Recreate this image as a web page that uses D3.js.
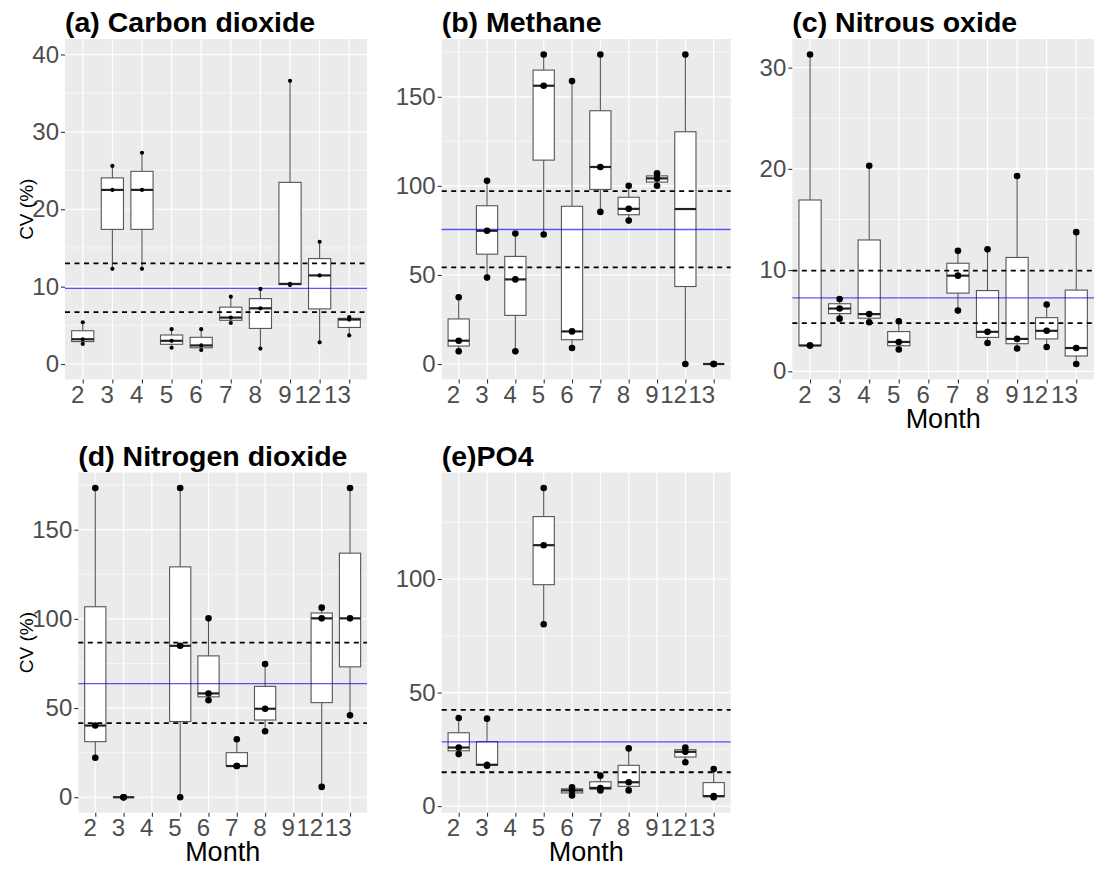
<!DOCTYPE html>
<html>
<head>
<meta charset="utf-8">
<script src="https://cdn.jsdelivr.net/npm/d3@7"></script>
<style>
  html, body { margin: 0; padding: 0; background: #ffffff; }
  svg { display: block; font-family: "Liberation Sans", Arial, "DejaVu Sans", sans-serif; }
</style>
</head>
<body>
<svg id="chart" width="1100" height="875"></svg>
<script>
// ---------------- DATA ----------------
const months = ["2", "3", "4", "5", "6", "7", "8", "9", "12", "13"];

// CV (%) observations per month (one array per month, same order as `months`)
const co2Values = [
  [2.6, 3.2, 5.4], [12.3, 22.5, 25.6], [12.3, 22.5, 27.3], [2.1, 3.0, 4.5], [1.8, 2.4, 4.5],
  [5.3, 6.0, 8.7], [2.0, 7.2, 9.7], [10.2, 10.35, 36.6], [2.8, 11.45, 15.8], [3.7, 5.75, 6.05]
];
const ch4Values = [
  [7.1, 13.1, 37.5], [48.5, 74.8, 102.9], [7.1, 47.5, 73.3], [72.7, 156.2, 173.75], [9.0, 18.3, 158.8],
  [85.4, 110.6, 173.75], [80.5, 87.1, 100.1], [100.1, 104.2, 107.0], [0, 87.0, 173.75], [0, 0, 0]
];
const n2oValues = [
  [2.55, 2.55, 31.3], [5.2, 6.2, 7.15], [4.85, 5.65, 20.3], [2.15, 2.9, 4.95], [],
  [6.0, 9.45, 11.9], [2.8, 3.9, 12.05], [2.25, 3.2, 19.3], [2.4, 4.0, 6.6], [0.72, 2.3, 13.75]
];
const no2Values = [
  [22.1, 40.2, 173.4], [0, 0, 0], [], [0, 84.9, 173.4], [54.4, 58.2, 100.3],
  [17.5, 17.5, 32.5], [37.0, 49.6, 74.7], [], [5.8, 100.3, 106.3], [45.9, 100.3, 173.4]
];
const po4Values = [
  [22.9, 25.8, 38.8], [17.8, 18.2, 38.5], [], [80.1, 114.9, 140.1], [4.7, 6.9, 8.3],
  [6.9, 8.0, 13.4], [6.9, 10.5, 25.4], [], [19.3, 23.9, 25.8], [3.9, 4.4, 16.3]
];

// reference lines: [lower dashed, mean (blue), upper dashed]
const co2Lines = [6.7, 9.77, 13.0];
const ch4Lines = [54.3, 75.5, 97.0];
const n2oLines = [4.76, 7.26, 9.95];
const no2Lines = [41.6, 63.7, 86.7];
const po4Lines = [14.9, 28.3, 42.4];

// y-axis tick labels
const co2Ticks = [0, 10, 20, 30, 40];
const ch4Ticks = [0, 50, 100, 150];
const n2oTicks = [0, 10, 20, 30];
const no2Ticks = [0, 50, 100, 150];
const po4Ticks = [0, 50, 100];

const panelTitles = ["(a) Carbon dioxide", "(b) Methane", "(c) Nitrous oxide", "(d) Nitrogen dioxide", "(e)PO4"];
const yAxisTitle = "CV (%)";
const xAxisTitle = "Month";

// observations used for the box but not drawn as a dot
const hiddenDots = [{ panel: 1, month: "12", value: 87.0 }];

// ---------------- LAYOUT ----------------
const panels = [
  { title: panelTitles[0], values: co2Values, lines: co2Lines, ticks: co2Ticks, limits: [0, 40],
    box: { x0: 65, x1: 367, y0: 39, y1: 379.5 }, r: 2.1, yTitle: true, xTitle: false },
  { title: panelTitles[1], values: ch4Values, lines: ch4Lines, ticks: ch4Ticks, limits: null,
    box: { x0: 441.7, x1: 730.7, y0: 39, y1: 379.5 }, r: 3.3, yTitle: false, xTitle: false },
  { title: panelTitles[2], values: n2oValues, lines: n2oLines, ticks: n2oTicks, limits: null,
    box: { x0: 792.3, x1: 1094, y0: 39, y1: 379.5 }, r: 3.3, yTitle: false, xTitle: true },
  { title: panelTitles[3], values: no2Values, lines: no2Lines, ticks: no2Ticks, limits: null,
    box: { x0: 78.3, x1: 367, y0: 472.5, y1: 812.7 }, r: 3.3, yTitle: true, xTitle: true },
  { title: panelTitles[4], values: po4Values, lines: po4Lines, ticks: po4Ticks, limits: null,
    box: { x0: 441.7, x1: 730.7, y0: 472.5, y1: 812.7 }, r: 3.3, yTitle: false, xTitle: true }
];

const svg = d3.select("#chart");

panels.forEach((p, pi) => {
  const b = p.box;
  const g = svg.append("g");

  // y domain: explicit limits or data range, expanded by 5% like ggplot
  let lo, hi;
  if (p.limits) { [lo, hi] = p.limits; }
  else {
    const all = p.values.flat();
    lo = d3.min(all); hi = d3.max(all);
  }
  const pad = (hi - lo) * 0.05;
  const y = d3.scaleLinear().domain([lo - pad, hi + pad]).range([b.y1, b.y0]);
  const x = d3.scalePoint().domain(months).range([b.x0, b.x1]).padding(0.6);
  const step = x.step();

  // panel background
  g.append("rect").attr("x", b.x0).attr("y", b.y0)
    .attr("width", b.x1 - b.x0).attr("height", b.y1 - b.y0).attr("fill", "#EBEBEB");

  // minor grid
  const minor = [];
  for (let i = 0; i < p.ticks.length - 1; i++) minor.push((p.ticks[i] + p.ticks[i + 1]) / 2);
  const tStep = p.ticks[1] - p.ticks[0];
  minor.push(p.ticks[0] - tStep / 2, p.ticks[p.ticks.length - 1] + tStep / 2);
  g.selectAll(".minor").data(minor.filter(v => v >= y.domain()[0] && v <= y.domain()[1]))
    .enter().append("line")
    .attr("x1", b.x0).attr("x2", b.x1)
    .attr("y1", d => y(d)).attr("y2", d => y(d))
    .attr("stroke", "#ffffff").attr("stroke-width", 0.6);
  // major grid
  g.selectAll(".major").data(p.ticks).enter().append("line")
    .attr("x1", b.x0).attr("x2", b.x1)
    .attr("y1", d => y(d)).attr("y2", d => y(d))
    .attr("stroke", "#ffffff").attr("stroke-width", 1.2);
  g.selectAll(".vgrid").data(months).enter().append("line")
    .attr("x1", d => x(d)).attr("x2", d => x(d))
    .attr("y1", b.y0).attr("y2", b.y1)
    .attr("stroke", "#ffffff").attr("stroke-width", 1.2);

  // boxplots
  const bw = step * 0.75;
  months.forEach((m, mi) => {
    const vals = p.values[mi].slice().sort(d3.ascending);
    if (!vals.length) return;
    const q1 = d3.quantile(vals, 0.25), med = d3.quantile(vals, 0.5), q3 = d3.quantile(vals, 0.75);
    const iqr = q3 - q1;
    const wLo = d3.min(vals.filter(v => v >= q1 - 1.5 * iqr));
    const wHi = d3.max(vals.filter(v => v <= q3 + 1.5 * iqr));
    const cx = x(m);
    const bg = g.append("g");
    bg.append("line").attr("x1", cx).attr("x2", cx).attr("y1", y(q3)).attr("y2", y(wHi))
      .attr("stroke", "#555").attr("stroke-width", 1.1);
    bg.append("line").attr("x1", cx).attr("x2", cx).attr("y1", y(q1)).attr("y2", y(wLo))
      .attr("stroke", "#555").attr("stroke-width", 1.1);
    bg.append("rect").attr("x", cx - bw / 2).attr("width", bw)
      .attr("y", y(q3)).attr("height", Math.max(0, y(q1) - y(q3)))
      .attr("fill", "#ffffff").attr("stroke", "#555").attr("stroke-width", 1.1);
    bg.append("line").attr("x1", cx - bw / 2).attr("x2", cx + bw / 2)
      .attr("y1", y(med)).attr("y2", y(med))
      .attr("stroke", "#222").attr("stroke-width", 2.2);
  });

  // reference lines
  [p.lines[0], p.lines[2]].forEach(v => {
    g.append("line").attr("x1", b.x0).attr("x2", b.x1).attr("y1", y(v)).attr("y2", y(v))
      .attr("stroke", "#000").attr("stroke-width", 1.8).attr("stroke-dasharray", "5,4.5");
  });
  g.append("line").attr("x1", b.x0).attr("x2", b.x1).attr("y1", y(p.lines[1])).attr("y2", y(p.lines[1]))
    .attr("stroke", "#0000ff").attr("stroke-opacity", 0.65).attr("stroke-width", 1.3);

  // dots
  const dots = [];
  months.forEach((m, mi) => {
    p.values[mi].forEach(v => {
      if (hiddenDots.some(h => h.panel === pi && h.month === m && h.value === v)) return;
      dots.push({ m, v });
    });
  });
  g.selectAll(".dot").data(dots).enter().append("circle")
    .attr("cx", d => x(d.m)).attr("cy", d => y(d.v)).attr("r", p.r).attr("fill", "#000");

  // axes
  const yAxis = g.append("g").attr("transform", `translate(${b.x0},0)`)
    .call(d3.axisLeft(y).tickValues(p.ticks).tickSize(4).tickPadding(2).tickFormat(d3.format("d")));
  yAxis.select(".domain").remove();
  yAxis.selectAll(".tick line").attr("stroke", "#333").attr("stroke-width", 1.1);
  yAxis.selectAll(".tick text").attr("fill", "#4D4D4D").style("font-size", "24px")
    .style("font-family", "'Liberation Sans', Arial, sans-serif");

  const xAxis = g.append("g").attr("transform", `translate(0,${b.y1})`)
    .call(d3.axisBottom(x).tickSize(4).tickPadding(2));
  xAxis.select(".domain").remove();
  xAxis.selectAll(".tick line").attr("stroke", "#333").attr("stroke-width", 1.1);
  xAxis.selectAll(".tick text").attr("fill", "#4D4D4D").style("font-size", "24px")
    .attr("text-anchor", "end").attr("dx", "1")
    .style("font-family", "'Liberation Sans', Arial, sans-serif");

  // titles
  g.append("text").attr("x", b.x0).attr("y", b.y0 - 7)
    .attr("font-size", 28.5).attr("font-weight", "bold").attr("fill", "#000")
    .text(p.title);
  if (p.yTitle) {
    g.append("text").attr("transform", `translate(33,${(b.y0 + b.y1) / 2}) rotate(-90)`)
      .attr("text-anchor", "middle").attr("font-size", 19).attr("fill", "#000")
      .text(yAxisTitle);
  }
  if (p.xTitle) {
    g.append("text").attr("x", (b.x0 + b.x1) / 2).attr("y", b.y1 + 48.5)
      .attr("text-anchor", "middle").attr("font-size", 27).attr("fill", "#000")
      .text(xAxisTitle);
  }
});
</script>
</body>
</html>
